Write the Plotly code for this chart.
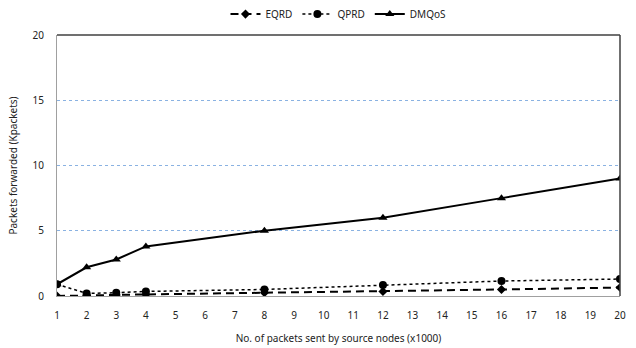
import plotly.graph_objects as go

# Number of packets sent by source nodes (x1000)
packets_sent = [1, 2, 3, 4, 8, 12, 16, 20]

# Packets forwarded (Kpackets) per protocol
eqrd = [0.0, 0.05, 0.08, 0.12, 0.25, 0.35, 0.5, 0.65]
qprd = [0.9, 0.2, 0.25, 0.35, 0.5, 0.85, 1.15, 1.3]
dmqos = [0.9, 2.2, 2.8, 3.8, 5.0, 6.0, 7.5, 9.0]

x_ticks = list(range(1, 21))
y_ticks = [0, 5, 10, 15, 20]

FONT = "Noto Sans"

fig = go.Figure()
fig.add_trace(go.Scatter(
    x=packets_sent, y=eqrd, name="EQRD", mode="lines+markers",
    line=dict(color="black", width=2, dash="8px,5px"),
    marker=dict(symbol="diamond", size=7, color="black"),
))
fig.add_trace(go.Scatter(
    x=packets_sent, y=qprd, name="QPRD", mode="lines+markers",
    line=dict(color="black", width=1.5, dash="dot"),
    marker=dict(symbol="circle", size=8, color="black"),
))
fig.add_trace(go.Scatter(
    x=packets_sent, y=dmqos, name="DMQoS", mode="lines+markers",
    line=dict(color="black", width=2),
    marker=dict(symbol="triangle-up", size=8, color="black"),
))

# frame on the top and right of the plot area
fig.add_shape(type="line", xref="x domain", yref="y domain",
              x0=0, x1=1, y0=1, y1=1, line=dict(color="#404040", width=1.5))
fig.add_shape(type="line", xref="x domain", yref="y domain",
              x0=1, x1=1, y0=0, y1=1, line=dict(color="#404040", width=1.5))

fig.update_layout(
    width=636, height=348,
    margin=dict(l=57, r=16, t=35, b=52, autoexpand=False),
    paper_bgcolor="white", plot_bgcolor="white",
    font=dict(family=FONT, size=10, color="#222222"),
    showlegend=True,
    legend=dict(orientation="h", x=0.5, xanchor="center", y=1.08, yanchor="middle",
                font=dict(size=10), itemwidth=30,
                bgcolor="rgba(0,0,0,0)", traceorder="normal"),
    xaxis=dict(
        range=[1, 20], tickmode="array", tickvals=x_ticks,
        showgrid=False, zeroline=False, automargin=False,
        showline=True, linecolor="#a0a0a0", linewidth=1,
        ticks="outside", ticklen=10, tickcolor="rgba(0,0,0,0)",
        title=dict(text="No. of packets sent by source nodes (x1000)",
                   font=dict(size=10), standoff=13),
    ),
    yaxis=dict(
        range=[0, 20], tickmode="array", tickvals=y_ticks,
        showgrid=True, gridcolor="#8ab2e2", griddash="dot", gridwidth=1,
        zeroline=False, automargin=False,
        showline=True, linecolor="#a0a0a0", linewidth=1,
        ticks="outside", ticklen=10, tickcolor="rgba(0,0,0,0)",
        title=dict(text="Packets forwarded (Kpackets)", font=dict(size=10), standoff=13),
    ),
)

fig.write_html("out.html")
